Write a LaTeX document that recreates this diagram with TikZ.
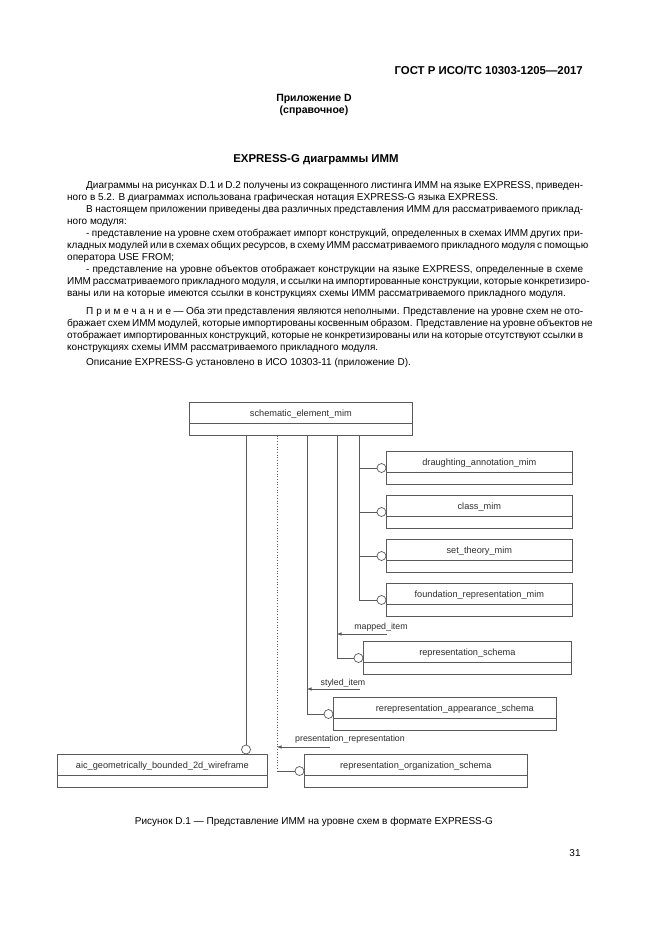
\documentclass[tikz,border=0pt]{standalone}
\usepackage{fontspec}
\setmainfont{Liberation Sans}
\usetikzlibrary{arrows.meta,calc}
\definecolor{linegray}{HTML}{5A5A5A}
\definecolor{inkgray}{HTML}{2E2E2E}
\begin{document}
\begin{tikzpicture}[x=1pt,y=-1pt,
  sbox/.style={draw=linegray, line width=0.7pt, inner xsep=0pt, inner ysep=0pt,
    anchor=north west, minimum height=33pt, text height=14pt, text depth=19pt,
    font=\fontsize{9.2}{11}\selectfont, text=inkgray},
  endcirc/.style={circle, draw=linegray, fill=white, line width=0.7pt, minimum size=9pt, inner sep=0pt},
  uline/.style={draw=linegray, line width=0.7pt},
  refline/.style={draw=linegray, line width=0.7pt, dotted},
  relarrow/.style={draw=linegray, line width=0.6pt, -{Latex[length=4.5pt,width=3.5pt]}},
  rlabel/.style={font=\fontsize{8.8}{10}\selectfont, text=inkgray, inner sep=0pt},
  ptext/.style={text=black, inner sep=0pt}
]
\useasboundingbox[fill=white] (0,0) rectangle (661,935);

% ---------- page text ----------
\node[ptext, anchor=base east, font=\bfseries\fontsize{11.4}{13}\selectfont] (hdr) at (583,74) {ГОСТ Р ИСО/ТС 10303-1205—2017};
\node[ptext, anchor=base, font=\bfseries\fontsize{10.5}{12}\selectfont] (annex) at (314,101) {Приложение D};
\node[ptext, anchor=base, font=\bfseries\fontsize{10.5}{12}\selectfont] (inf) at (314,113) {(справочное)};
\node[ptext, anchor=base, font=\bfseries\fontsize{11.4}{13}\selectfont] (title) at (316,162) {EXPRESS-G диаграммы ИММ};

\node[ptext, anchor=north west, align=left, font=\fontsize{10}{12}\selectfont] (body) at (67,179.6) {%
\strut\hspace*{19pt}\makebox[497pt][s]{Диаграммы на рисунках D.1 и D.2 получены из сокращенного листинга ИММ на языке EXPRESS, приведен-}\\
ного в 5.2. В диаграммах использована графическая нотация EXPRESS-G языка EXPRESS.\\
\hspace*{19pt}\makebox[497pt][s]{В настоящем приложении приведены два различных представления ИММ для рассматриваемого приклад-}\\
ного модуля:\\
\hspace*{19pt}\makebox[497pt][s]{- представление на уровне схем отображает импорт конструкций, определенных в схемах ИММ других при-}\\
\makebox[516pt][s]{кладных модулей или в схемах общих ресурсов, в схему ИММ рассматриваемого прикладного модуля с помощью}\\
оператора USE FROM;\\
\hspace*{19pt}\makebox[497pt][s]{- представление на уровне объектов отображает конструкции на языке EXPRESS, определенные в схеме}\\
\makebox[516pt][s]{ИММ рассматриваемого прикладного модуля, и ссылки на импортированные конструкции, которые конкретизиро-}\\
ваны или на которые имеются ссылки в конструкциях схемы ИММ рассматриваемого прикладного модуля.\\[6pt]
\hspace*{19pt}\makebox[497pt][s]{{\addfontfeature{LetterSpace=30}Примечание}\ — Оба эти представления являются неполными. Представление на уровне схем не ото-}\\
\makebox[516pt][s]{бражает схем ИММ модулей, которые импортированы косвенным образом. Представление на уровне объектов не}\\
\makebox[516pt][s]{отображает импортированных конструкций, которые не конкретизированы или на которые отсутствуют ссылки в}\\
конструкциях схемы ИММ рассматриваемого прикладного модуля.\\[3pt]
\hspace*{19pt}Описание EXPRESS-G установлено в ИСО 10303-11 (приложение D).};

\node[ptext, anchor=base, font=\fontsize{10}{12}\selectfont] (caption) at (314,824) {Рисунок D.1 — Представление ИММ на уровне схем в формате EXPRESS-G};
\node[ptext, anchor=base, font=\fontsize{10}{12}\selectfont] (pageno) at (575,856) {31};

% ---------- schema boxes ----------
\node[sbox, minimum width=223pt] (sem) at (189,402) {schematic\_element\_mim};
\node[sbox, minimum width=186pt] (dam) at (386,451) {draughting\_annotation\_mim};
\node[sbox, minimum width=186pt] (cls) at (386,495) {class\_mim};
\node[sbox, minimum width=186pt] (set) at (386,539) {set\_theory\_mim};
\node[sbox, minimum width=186pt] (fnd) at (386,583) {foundation\_representation\_mim};
\node[sbox, minimum width=208pt] (rep) at (363,641) {representation\_schema};
\node[sbox, minimum width=223pt] (rap) at (333,697) {\hspace*{20pt}rerepresentation\_appearance\_schema};
\node[sbox, minimum width=223pt] (ros) at (304,754) {representation\_organization\_schema};
\node[sbox, minimum width=210pt] (aic) at (57,754) {aic\_geometrically\_bounded\_2d\_wireframe};

\foreach \b in {sem,dam,cls,set,fnd,rep,rap,ros,aic}
  \draw[uline] ([yshift=-21pt]\b.north west) -- ([yshift=-21pt]\b.north east);

% ---------- end circles ----------
\foreach \b in {dam,cls,set,fnd,rep,rap,ros}
  \node[endcirc] (c-\b) at ([xshift=-4.5pt,yshift=-17pt]\b.north west) {};
\node[endcirc] (c-aic) at ([xshift=189pt,yshift=4.5pt]aic.north west) {};

% ---------- trunks from schematic_element_mim ----------
\coordinate (t1) at ([xshift=56pt]sem.south west);
\coordinate (t2) at ([xshift=88pt]sem.south west);
\coordinate (t3) at ([xshift=118pt]sem.south west);
\coordinate (t4) at ([xshift=148pt]sem.south west);
\coordinate (t5) at ([xshift=170pt]sem.south west);

\draw[uline] (sem.south -| c-aic.north) -- (c-aic.north);
\coordinate (t2end) at (t2 |- c-ros);
\draw[refline] (t2) -- (t2end);
\draw[uline] (t2end) -- (c-ros.west);
\draw[uline] (t3) |- (c-rap.west);
\draw[uline] (t4) |- (c-rep.west);
\draw[uline] (t5) |- (c-fnd.west);
\foreach \b in {dam,cls,set}
  \draw[uline] (t5 |- c-\b) -- (c-\b.west);

% ---------- relation labels ----------
\node[rlabel, anchor=base] (lmap) at (381,629) {mapped\_item};
\coordinate (amap) at (387,634);
\draw[relarrow] (amap) -- (amap -| t4);

\node[rlabel, anchor=base] (lsty) at (343,685) {styled\_item};
\coordinate (asty) at (360,689);
\draw[relarrow] (asty) -- (asty -| t3);

\node[rlabel, anchor=base] (lpre) at (350,741) {presentation\_representation};
\coordinate (apre) at (330,747);
\draw[relarrow] (apre) -- (apre -| t2);
\end{tikzpicture}
\end{document}
